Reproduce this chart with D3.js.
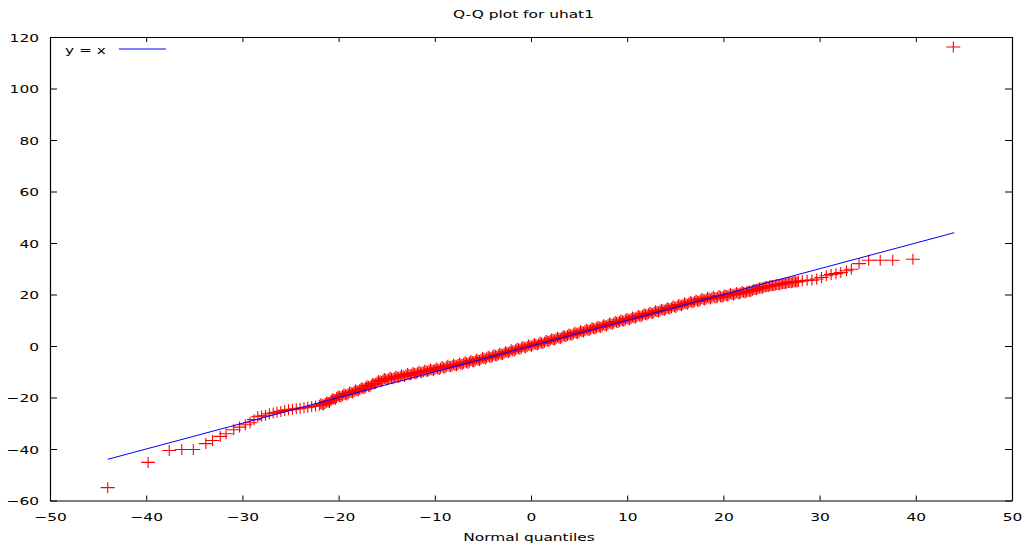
<!DOCTYPE html>
<html>
<head>
<meta charset="utf-8">
<script src="https://cdn.jsdelivr.net/npm/d3@7"></script>
<style>
  body { margin: 0; background: #fff; }
  svg { display: block; }
</style>
</head>
<body>
<svg width="1025" height="550"></svg>
<script>
// normal quantiles (x) against sorted residuals (y)
var lowTailX = [-44.0, -39.8, -37.6, -36.3, -35.1, -33.8, -33.1, -32.3, -31.7, -30.9, -30.3, -29.7, -29.2]
var lowTailY = [-55.0, -45.2, -40.6, -40.2, -40.2, -37.9, -36.7, -35.1, -34.1, -32.5, -31.5, -30.6, -29.8]

var leftBandX = [-28.8, -28.4, -28.0, -27.6, -27.2, -26.8, -26.4, -26.0, -25.6, -25.2, -24.8, -24.4, -24.0, -23.6, -23.2, -22.8, -22.4]
var leftBandY = [-28.6, -27.5, -27.2, -26.9, -26.3, -26.0, -25.7, -25.4, -25.0, -24.8, -24.6, -24.4, -24.2, -24.0, -23.8, -23.5, -23.3]

var bandX = [-22.0, -21.7, -21.4, -21.1, -20.8, -20.5, -20.2, -19.9, -19.6, -19.3, -19.0, -18.7, -18.4, -18.1, -17.8, -17.5, -17.2, -16.9, -16.6, -16.3,
  -16.0, -15.7, -15.4, -15.1, -14.8, -14.5, -14.2, -13.9, -13.6, -13.3, -13.0, -12.7, -12.4, -12.1, -11.8, -11.5, -11.2, -10.9, -10.6, -10.3,
  -10.0, -9.7, -9.4, -9.1, -8.8, -8.5, -8.2, -7.9, -7.6, -7.3, -7.0, -6.7, -6.4, -6.1, -5.8, -5.5, -5.2, -4.9, -4.6, -4.3,
  -4.0, -3.7, -3.4, -3.1, -2.8, -2.5, -2.2, -1.9, -1.6, -1.3, -1.0, -0.7, -0.4, -0.1, 0.2, 0.5, 0.8, 1.1, 1.4, 1.7,
  2.0, 2.3, 2.6, 2.9, 3.2, 3.5, 3.8, 4.1, 4.4, 4.7, 5.0, 5.3, 5.6, 5.9, 6.2, 6.5, 6.8, 7.1, 7.4, 7.7,
  8.0, 8.3, 8.6, 8.9, 9.2, 9.5, 9.8, 10.1, 10.4, 10.7, 11.0, 11.3, 11.6, 11.9, 12.2, 12.5, 12.8, 13.1, 13.4, 13.7,
  14.0, 14.3, 14.6, 14.9, 15.2, 15.5, 15.8, 16.1, 16.4, 16.7, 17.0, 17.3, 17.6, 17.9, 18.2, 18.5, 18.8, 19.1, 19.4, 19.7,
  20.0, 20.3, 20.6, 20.9, 21.2, 21.5, 21.8]
var bandY = [-23.0, -22.7, -22.3, -21.8, -21.2, -20.6, -20.0, -19.6, -19.2, -18.8, -18.5, -18.1, -17.7, -17.3, -16.9, -16.4, -16.0, -15.6, -15.1, -14.8,
  -14.0, -13.6, -13.2, -12.9, -12.7, -12.5, -12.3, -12.0, -11.8, -11.6, -11.3, -11.1, -10.9, -10.7, -10.4, -10.2, -10.0, -9.7, -9.5, -9.3,
  -9.1, -8.9, -8.6, -8.4, -8.1, -7.9, -7.7, -7.5, -7.2, -7.0, -6.7, -6.5, -6.2, -6.0, -5.7, -5.4, -5.1, -4.8, -4.6, -4.3,
  -4.0, -3.7, -3.4, -3.1, -2.8, -2.4, -2.1, -1.8, -1.5, -1.1, -0.8, -0.5, -0.2, 0.1, 0.4, 0.6, 0.9, 1.2, 1.5, 1.9,
  2.2, 2.5, 2.8, 3.1, 3.4, 3.8, 4.1, 4.4, 4.7, 5.0, 5.3, 5.6, 5.9, 6.2, 6.5, 6.8, 7.1, 7.4, 7.7, 8.0,
  8.3, 8.6, 8.9, 9.2, 9.5, 9.8, 10.1, 10.4, 10.7, 11.0, 11.3, 11.6, 11.9, 12.2, 12.5, 12.8, 13.1, 13.4, 13.7, 14.0,
  14.3, 14.6, 14.9, 15.2, 15.5, 15.8, 16.1, 16.4, 16.7, 17.0, 17.3, 17.5, 17.8, 18.1, 18.3, 18.5, 18.7, 18.8, 19.0, 19.1,
  19.3, 19.6, 19.8, 20.0, 20.2, 20.4, 20.6]

// the in-between residuals of the dense middle band
var bandX2 = [-21.85, -21.55, -21.25, -20.95, -20.65, -20.35, -20.05, -19.75, -19.45, -19.15, -18.85, -18.55, -18.25, -17.95, -17.65, -17.35, -17.05, -16.75, -16.45, -16.15,
  -15.85, -15.55, -15.25, -14.95, -14.65, -14.35, -14.05, -13.75, -13.45, -13.15, -12.85, -12.55, -12.25, -11.95, -11.65, -11.35, -11.05, -10.75, -10.45, -10.15,
  -9.85, -9.55, -9.25, -8.95, -8.65, -8.35, -8.05, -7.75, -7.45, -7.15, -6.85, -6.55, -6.25, -5.95, -5.65, -5.35, -5.05, -4.75, -4.45, -4.15,
  -3.85, -3.55, -3.25, -2.95, -2.65, -2.35, -2.05, -1.75, -1.45, -1.15, -0.85, -0.55, -0.25, 0.05, 0.35, 0.65, 0.95, 1.25, 1.55, 1.85,
  2.15, 2.45, 2.75, 3.05, 3.35, 3.65, 3.95, 4.25, 4.55, 4.85, 5.15, 5.45, 5.75, 6.05, 6.35, 6.65, 6.95, 7.25, 7.55, 7.85,
  8.15, 8.45, 8.75, 9.05, 9.35, 9.65, 9.95, 10.25, 10.55, 10.85, 11.15, 11.45, 11.75, 12.05, 12.35, 12.65, 12.95, 13.25, 13.55, 13.85,
  14.15, 14.45, 14.75, 15.05, 15.35, 15.65, 15.95, 16.25, 16.55, 16.85, 17.15, 17.45, 17.75, 18.05, 18.35, 18.65, 18.95, 19.25, 19.55, 19.85,
  20.15, 20.45, 20.75, 21.05, 21.35, 21.65, 21.95]
var bandY2 = [-22.4, -22.9, -21.7, -22.0, -20.6, -20.8, -19.4, -19.8, -18.6, -19.0, -17.9, -18.3, -17.1, -17.5, -16.3, -16.6, -15.4, -15.8, -14.5, -14.6,
  -13.4, -13.8, -12.6, -13.1, -12.1, -12.7, -11.7, -12.2, -11.2, -11.8, -10.7, -11.3, -10.3, -10.9, -9.8, -10.4, -9.4, -9.9, -8.9, -9.5,
  -8.5, -9.1, -8.0, -8.6, -7.5, -8.1, -7.1, -7.7, -6.6, -7.2, -6.1, -6.7, -5.6, -6.2, -5.1, -5.6, -4.5, -5.0, -4.0, -4.5,
  -3.4, -3.9, -2.8, -3.3, -2.2, -2.6, -1.5, -2.0, -0.9, -1.3, -0.2, -0.7, 0.4, -0.1, 1.0, 0.4, 1.5, 1.0, 2.1, 1.7,
  2.8, 2.3, 3.4, 2.9, 4.0, 3.6, 4.7, 4.2, 5.3, 4.8, 5.9, 5.4, 6.5, 6.0, 7.1, 6.6, 7.7, 7.2, 8.3, 7.8,
  8.9, 8.4, 9.5, 9.0, 10.1, 9.6, 10.7, 10.2, 11.3, 10.8, 11.9, 11.4, 12.5, 12.0, 13.1, 12.6, 13.7, 13.2, 14.3, 13.8,
  14.9, 14.4, 15.5, 15.0, 16.1, 15.6, 16.7, 16.2, 17.3, 16.8, 17.9, 17.3, 18.4, 17.9, 18.9, 18.3, 19.3, 18.6, 19.6, 18.9,
  19.9, 19.4, 20.4, 19.8, 20.8, 20.2, 21.2]

var rightBandX = [22.1, 22.4, 22.7, 23.0, 23.3, 23.6, 23.9, 24.2, 24.5, 24.8, 25.1, 25.4, 25.7, 26.0, 26.3, 26.6, 26.9, 27.2, 27.5, 27.8,
  28.2, 28.7, 29.2, 29.7, 30.2, 30.7, 31.2, 31.7, 32.2, 32.8, 33.3]
var rightBandY = [20.8, 21.0, 21.3, 21.6, 21.9, 22.2, 22.5, 22.8, 23.1, 23.3, 23.5, 23.7, 23.9, 24.1, 24.3, 24.5, 24.7, 24.8, 25.0, 25.1,
  25.3, 25.5, 25.6, 26.0, 26.6, 27.3, 27.8, 28.1, 28.5, 29.2, 29.8]

var rightBandX2 = [22.25, 22.55, 22.85, 23.15, 23.45, 23.75, 24.05, 24.35, 24.65, 24.95, 25.25, 25.55, 25.85, 26.15, 26.45, 26.75, 27.05, 27.35, 27.65]
var rightBandY2 = [20.6, 21.3, 21.2, 21.9, 21.8, 22.5, 22.4, 23.0, 23.0, 23.5, 23.4, 23.9, 23.8, 24.3, 24.2, 24.7, 24.6, 25.0, 24.9]

var highTailX = [34.1, 35.1, 36.3, 37.6, 39.7, 43.9]
var highTailY = [32.0, 33.3, 33.3, 33.3, 33.7, 116.1]

// reference line y = x, drawn over the range of the quantiles
var lineEnds = [-44, 44]

var xTicks = [-50, -40, -30, -20, -10, 0, 10, 20, 30, 40, 50]
var yTicks = [-60, -40, -20, 0, 20, 40, 60, 80, 100, 120]

var TITLE = "Q-Q plot for uhat1"
var X_LABEL = "Normal quantiles"
var KEY_LABEL = "y = x"

main()

function main() {
  var LEFT = 50
  var RIGHT = 1012
  var TOP = 37
  var BOTTOM = 500.5
  var FONT = "DejaVu Sans, Verdana, sans-serif"
  var FONT_SIZE = 11
  var STRETCH = "scale(1.4,1)"   // text in the reference is wide

  var svg = d3.select("svg")

  var x = d3.scaleLinear().domain([-50, 50]).range([LEFT, RIGHT])
  var y = d3.scaleLinear().domain([-60, 120]).range([BOTTOM, TOP])

  var points = []
  function addPoints(xs, ys) {
    xs.forEach(function(d, i) { points.push([d, ys[i]]) })
  }
  addPoints(lowTailX, lowTailY)
  addPoints(leftBandX, leftBandY)
  addPoints(bandX, bandY)
  addPoints(bandX2, bandY2)
  addPoints(rightBandX, rightBandY)
  addPoints(rightBandX2, rightBandY2)
  addPoints(highTailX, highTailY)

  // points first, the line goes on top of them
  svg.append("g")
      .attr("class", "points")
    .selectAll("path")
    .data(points)
    .enter()
    .append("path")
      .attr("transform", function(d) { return "translate(" + x(d[0]) + "," + y(d[1]) + ")" })
      .attr("d", "M-7,0H7M0,-5.5V5.5")
      .attr("stroke", "#ff0000")
      .attr("stroke-width", 1.1)
      .attr("fill", "none")

  svg.append("line")
      .attr("x1", x(lineEnds[0]))
      .attr("y1", y(lineEnds[0]))
      .attr("x2", x(lineEnds[1]))
      .attr("y2", y(lineEnds[1]))
      .attr("stroke", "#0000ff")
      .attr("stroke-width", 1)

  // gnuplot style frame: ticks inside on all four sides
  var bottomAxis = svg.append("g")
      .attr("transform", "translate(0," + BOTTOM + ")")
      .call(d3.axisBottom(x).tickValues(xTicks).tickSizeInner(-5).tickSizeOuter(0).tickPadding(13))
  var topAxis = svg.append("g")
      .attr("transform", "translate(0," + TOP + ")")
      .call(d3.axisTop(x).tickValues(xTicks).tickSizeInner(-5).tickSizeOuter(0).tickFormat(""))
  var leftAxis = svg.append("g")
      .attr("transform", "translate(" + LEFT + ",0)")
      .call(d3.axisLeft(y).tickValues(yTicks).tickSizeInner(-7).tickSizeOuter(0))
  var rightAxis = svg.append("g")
      .attr("transform", "translate(" + RIGHT + ",0)")
      .call(d3.axisRight(y).tickValues(yTicks).tickSizeInner(-7).tickSizeOuter(0).tickFormat(""))

  ;[bottomAxis, topAxis, leftAxis, rightAxis].forEach(function(g) {
    g.select(".domain").attr("stroke", "#000").attr("stroke-width", 1.2)
    g.selectAll(".tick line").attr("stroke", "#000")
    g.selectAll("text")
        .attr("font-family", FONT)
        .attr("font-size", FONT_SIZE)
        .attr("fill", "#000")
  })

  bottomAxis.selectAll(".tick text")
      .attr("transform", "translate(0,13) " + STRETCH)
      .attr("y", 0)
  leftAxis.selectAll(".tick text")
      .attr("x", 0)
      .attr("dy", "0.4em")
      .attr("transform", "translate(-11,0) " + STRETCH)

  svg.append("text")
      .attr("transform", "translate(523.5,18) " + STRETCH)
      .attr("text-anchor", "middle")
      .attr("font-family", FONT)
      .attr("font-size", FONT_SIZE)
      .text(TITLE)

  svg.append("text")
      .attr("transform", "translate(529,541) " + STRETCH)
      .attr("text-anchor", "middle")
      .attr("font-family", FONT)
      .attr("font-size", FONT_SIZE)
      .text(X_LABEL)

  // key
  svg.append("text")
      .attr("transform", "translate(65,54) " + STRETCH)
      .attr("font-family", FONT)
      .attr("font-size", FONT_SIZE)
      .text(KEY_LABEL)

  svg.append("line")
      .attr("x1", 119)
      .attr("x2", 166)
      .attr("y1", 49)
      .attr("y2", 49)
      .attr("stroke", "#0000ff")
      .attr("stroke-width", 1)
}
</script>
</body>
</html>
